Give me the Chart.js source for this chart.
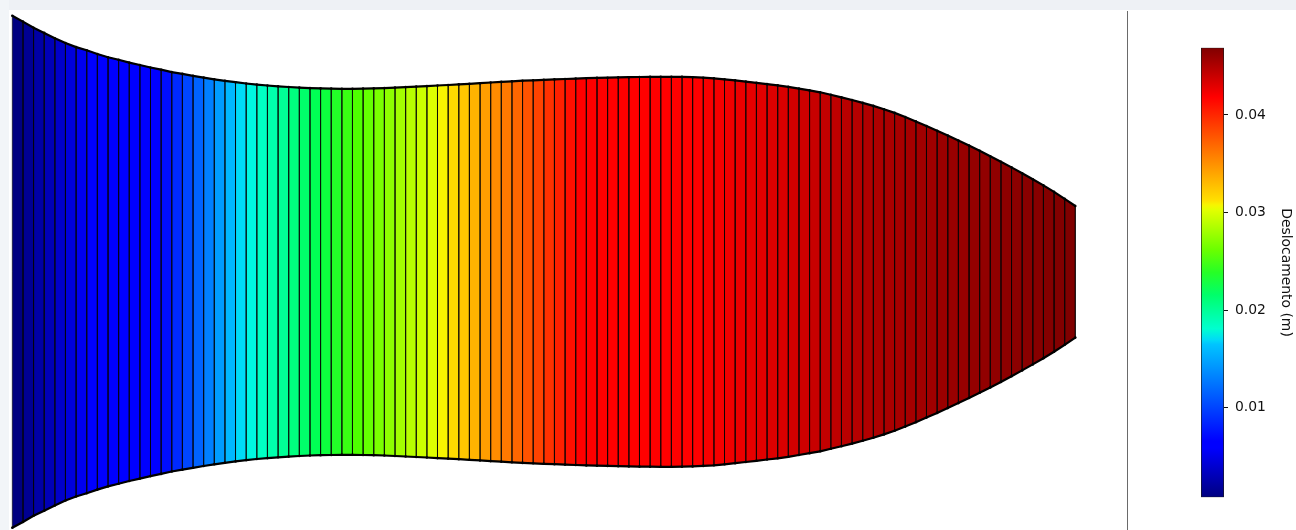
<!DOCTYPE html>
<html><head><meta charset="utf-8">
<script src="https://cdn.jsdelivr.net/npm/chart.js@4.4.1/dist/chart.umd.min.js"></script>
<style>
html,body{margin:0;padding:0;background:#fff;width:1296px;height:530px;overflow:hidden;}
#band{position:absolute;left:0;top:0;width:1296px;height:10px;background:#eef1f5;}
#lband{position:absolute;left:0;top:0;width:9px;height:530px;background:#f2f5f8;}
#sep{position:absolute;left:1127px;top:11px;width:1px;height:519px;background:#6a6a6a;}
#main{position:absolute;left:0;top:0;}
#cb{position:absolute;left:1130px;top:0;}
</style></head><body>
<div id="band"></div><div id="lband"></div><div id="sep"></div>
<canvas id="main" width="1120" height="530"></canvas>
<canvas id="cb" width="166" height="530"></canvas>
<script>
// node positions along the bar
const nodeX = [0,0.1,0.2,0.3,0.4,0.5,0.6,0.7,0.8,0.9,1.0,1.1,1.2,1.3,1.4,1.5,1.6,1.7,1.8,1.9,2.0,2.1,2.2,2.3,2.4,2.5,2.6,2.7,2.8,2.9,3.0,3.1,3.2,3.3,3.4,3.5,3.6,3.7,3.8,3.9,4.0,4.1,4.2,4.3,4.4,4.5,4.6,4.7,4.8,4.9,5.0,5.1,5.2,5.3,5.4,5.5,5.6,5.7,5.8,5.9,6.0,6.1,6.2,6.3,6.4,6.5,6.6,6.7,6.8,6.9,7.0,7.1,7.2,7.3,7.4,7.5,7.6,7.7,7.8,7.9,8.0,8.1,8.2,8.3,8.4,8.5,8.6,8.7,8.8,8.9,9.0,9.1,9.2,9.3,9.4,9.5,9.6,9.7,9.8,9.9,10.0];
// half depth of the section at each node (symmetric about the axis)
const halfDepth = [256.0,250.2,244.0,238.9,233.6,228.7,224.7,221.5,217.8,214.6,212.0,209.2,206.8,204.3,202.1,199.7,197.9,196.0,194.2,192.5,191.0,189.6,188.3,187.2,186.3,185.5,184.8,184.2,183.7,183.4,183.2,183.0,183.0,183.2,183.4,183.7,184.2,184.7,185.2,185.7,186.3,186.8,187.4,188.0,188.6,189.3,189.9,190.5,191.1,191.5,192.0,192.4,192.8,193.2,193.6,193.9,194.1,194.4,194.6,194.8,194.9,195.0,195.0,194.9,194.6,194.1,193.5,192.5,191.4,190.2,189.0,187.7,186.5,185.0,183.2,181.4,179.5,177.0,174.4,171.8,168.9,165.9,162.6,158.9,154.8,150.4,145.8,141.1,136.3,131.3,126.2,121.0,115.6,110.1,104.4,98.6,92.6,86.4,79.9,73.0,65.8];
// displacement of each element (m)
const displacement = [0.00080,0.00154,0.00228,0.00301,0.00375,0.00449,0.00523,0.00596,0.00675,0.00753,0.00831,0.00910,0.00988,0.01067,0.01145,0.01223,0.01302,0.01380,0.01458,0.01537,0.01615,0.01694,0.01772,0.01850,0.01929,0.02007,0.02081,0.02155,0.02228,0.02302,0.02376,0.02450,0.02523,0.02597,0.02671,0.02740,0.02809,0.02878,0.02947,0.03012,0.03077,0.03136,0.03196,0.03256,0.03316,0.03372,0.03427,0.03482,0.03538,0.03588,0.03639,0.03690,0.03740,0.03791,0.03837,0.03883,0.03925,0.03966,0.04008,0.04045,0.04081,0.04109,0.04137,0.04160,0.04183,0.04206,0.04224,0.04243,0.04261,0.04280,0.04298,0.04317,0.04335,0.04358,0.04381,0.04404,0.04423,0.04441,0.04460,0.04478,0.04492,0.04506,0.04519,0.04533,0.04542,0.04556,0.04565,0.04579,0.04589,0.04598,0.04607,0.04616,0.04625,0.04635,0.04644,0.04653,0.04662,0.04672,0.04681,0.04690];
const colorbarTicks = [0.01,0.02,0.03,0.04];
const colorbarLabel = 'Deslocamento (m)';

const JET = {
  r: [[0,0],[0.35,0],[0.66,1],[0.89,1],[1,0.5]],
  g: [[0,0],[0.125,0],[0.375,1],[0.64,1],[0.91,0],[1,0]],
  b: [[0,0.5],[0.11,1],[0.34,1],[0.65,0],[1,0]]
};
const SAT = 1.65;
function seg(arr,t){
  for(let i=1;i<arr.length;i++){
    if(t<=arr[i][0]){const x0=arr[i-1][0],y0=arr[i-1][1],x1=arr[i][0],y1=arr[i][1];return y0+(y1-y0)*(t-x0)/(x1-x0);}
  }
  return arr[arr.length-1][1];
}
function jet(t){
  t=Math.max(0,Math.min(1,t));
  let c=[seg(JET.r,t),seg(JET.g,t),seg(JET.b,t)].map(v=>v*255);
  const M=Math.max(...c);
  c=c.map(v=>Math.max(0,Math.round(M-(M-v)*SAT)));
  return 'rgb('+c[0]+','+c[1]+','+c[2]+')';
}
const vmin = Math.min(...displacement), vmax = Math.max(...displacement);

const datasets = [];
for(let i=0;i<displacement.length;i++){
  const x0=nodeX[i],x1=nodeX[i+1],h0=halfDepth[i],h1=halfDepth[i+1];
  datasets.push({
    data:[{x:x0,y:-h0},{x:x0,y:h0},{x:x1,y:h1},{x:x1,y:-h1},{x:x0,y:-h0}],
    showLine:true, fill:'shape', order:1,
    backgroundColor: jet((displacement[i]-vmin)/(vmax-vmin)),
    borderColor:'rgba(0,0,0,0.72)', borderWidth:0.8, pointRadius:0, tension:0
  });
}
datasets.push({data:nodeX.map((x,i)=>({x:x,y:halfDepth[i]})), order:0, showLine:true, fill:false, borderColor:'#000', borderWidth:2.2, pointRadius:1.3, pointBackgroundColor:'#000', pointBorderWidth:0});
datasets.push({data:nodeX.map((x,i)=>({x:x,y:-halfDepth[i]})), order:0, showLine:true, fill:false, borderColor:'#000', borderWidth:2.2, pointRadius:1.3, pointBackgroundColor:'#000', pointBorderWidth:0});

new Chart(document.getElementById('main'), {
  type:'scatter',
  data:{datasets:datasets},
  options:{
    responsive:false, animation:false, events:[], devicePixelRatio:1,
    layout:{padding:0, autoPadding:false},
    plugins:{legend:{display:false}, tooltip:{enabled:false}},
    scales:{
      x:{type:'linear', display:false, min:-0.1157, max:10.4205},
      y:{type:'linear', display:false, min:-258.2, max:271.8}
    }
  }
});

const stops=[0,0.11,0.125,0.34,0.35,0.375,0.4,0.45,0.5,0.55,0.6,0.64,0.65,0.66,0.89,0.91,1];
new Chart(document.getElementById('cb'), {
  type:'bar',
  data:{labels:[''], datasets:[{
    data:[[vmin,vmax]],
    backgroundColor:(ctx)=>{
      const a=ctx.chart.chartArea; if(!a) return '#888';
      const g=ctx.chart.ctx.createLinearGradient(0,a.bottom,0,a.top);
      stops.forEach(s=>g.addColorStop(s,jet(s)));
      return g;
    },
    borderColor:'#1a1a1a', borderWidth:1, borderSkipped:false,
    barPercentage:1, categoryPercentage:1
  }]},
  options:{
    responsive:false, animation:false, events:[], devicePixelRatio:1,
    layout:{padding:{left:71, top:47.7, bottom:32.7, right:0}, autoPadding:false},
    plugins:{legend:{display:false}, tooltip:{enabled:false}},
    scales:{
      x:{display:false},
      y:{position:'right', min:vmin, max:vmax,
        afterBuildTicks:(s)=>{s.ticks=colorbarTicks.map(v=>({value:v}));},
        afterFit:(s)=>{s.width=72;},
        grid:{drawOnChartArea:false, drawTicks:true, tickLength:4, color:'#111', lineWidth:1},
        border:{display:false},
        ticks:{padding:7, color:'#111', font:{family:'DejaVu Sans', size:13.9}, callback:(v)=>Number(v).toFixed(2)},
        title:{display:true, text:colorbarLabel, color:'#111', font:{family:'DejaVu Sans', size:13.9}, padding:{top:2,bottom:0}}
      }
    }
  }
});
</script>
</body></html>
